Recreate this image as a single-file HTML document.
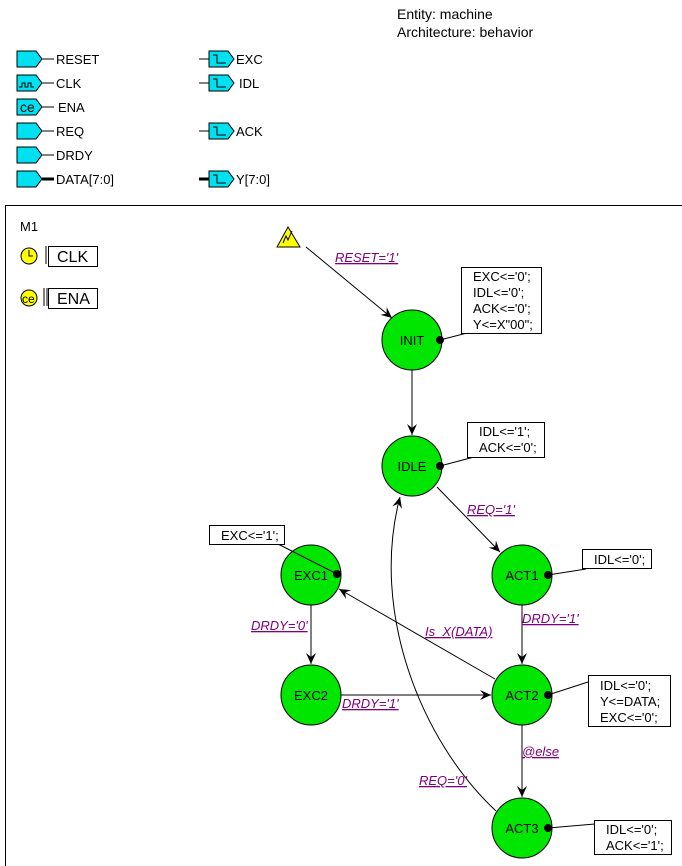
<!DOCTYPE html>
<html><head><style>
body{margin:0;background:#fff;}
svg{display:block;font-family:"Liberation Sans",Arial,sans-serif;}
.t{font-size:13px;fill:#000}
.l{font-size:13px;fill:#800080;font-style:italic;text-decoration:underline}
</style></head><body>
<svg width="682" height="866" viewBox="0 0 682 866">
<defs>
<marker id="a" markerWidth="12" markerHeight="12" refX="11" refY="6" orient="auto" markerUnits="userSpaceOnUse">
<path d="M0,1 L11,6 L0,11 L4,6 Z" fill="#000"/>
</marker>
<g id="pin"><path d="M0,0 H19 L25,8 L19,16 H0 Z" fill="#00e0f0" stroke="#000" stroke-width="1"/></g>
<g id="opin"><path d="M0,0 H19 L25,8 L19,16 H0 Z" fill="#00e0f0" stroke="#000" stroke-width="1"/><path d="M4,4 H8 V12 H17" fill="none" stroke="#000"/></g>
</defs>
<text x="397" y="19" class="t" style="font-size:14px">Entity: machine</text>
<text x="397" y="37" class="t" style="font-size:14px">Architecture: behavior</text>

<use href="#pin" x="17" y="51"/><line x1="42" y1="59" x2="54" y2="59" stroke="#000"/><text x="56" y="64" class="t">RESET</text>
<use href="#pin" x="17" y="75"/><path d="M19,87 h3 v-4 h3 v4 h3 v-4 h3 v4 h3" fill="none" stroke="#000"/><line x1="42" y1="83" x2="54" y2="83" stroke="#000"/><text x="56" y="88" class="t">CLK</text>
<use href="#pin" x="17" y="99"/><text x="20" y="112" class="t" style="font-size:14px">ce</text><line x1="42" y1="107" x2="54" y2="107" stroke="#000"/><text x="58" y="112" class="t">ENA</text>
<use href="#pin" x="17" y="123"/><line x1="42" y1="131" x2="54" y2="131" stroke="#000"/><text x="56" y="136" class="t">REQ</text>
<use href="#pin" x="17" y="147"/><line x1="42" y1="155" x2="54" y2="155" stroke="#000"/><text x="56" y="160" class="t">DRDY</text>
<use href="#pin" x="17" y="171"/><line x1="42" y1="179" x2="54" y2="179" stroke="#000" stroke-width="3"/><text x="56" y="184" class="t">DATA[7:0]</text>
<line x1="199" y1="59" x2="209" y2="59" stroke="#000"/><use href="#opin" x="209" y="51"/><text x="236" y="64" class="t">EXC</text>
<line x1="199" y1="83" x2="209" y2="83" stroke="#000"/><use href="#opin" x="209" y="75"/><text x="239" y="88" class="t">IDL</text>
<line x1="199" y1="131" x2="209" y2="131" stroke="#000"/><use href="#opin" x="209" y="123"/><text x="236" y="136" class="t">ACK</text>
<line x1="199" y1="179" x2="209" y2="179" stroke="#000" stroke-width="3"/><use href="#opin" x="209" y="171"/><text x="236" y="184" class="t">Y[7:0]</text>

<path d="M5.5,866 V205.5 H682" fill="none" stroke="#000"/>
<text x="20" y="231" class="t">M1</text>
<circle cx="29" cy="256" r="8" fill="#ffff00" stroke="#000"/><path d="M29,250 V256 H33" fill="none" stroke="#000"/>
<path d="M46,264 V246 M49,264 V246" fill="none" stroke="#000"/><rect x="48.5" y="246.5" width="49" height="20" fill="#fff" stroke="#000"/><text x="57" y="262" class="t" style="font-size:16px">CLK</text>
<circle cx="29" cy="298" r="8" fill="#ffff00" stroke="#000"/><text x="22" y="303" class="t" style="font-size:12px">ce</text>
<path d="M44,306 V288 M47,306 V288" fill="none" stroke="#000"/><rect x="48.5" y="288.5" width="49" height="20" fill="#fff" stroke="#000"/><text x="57" y="304" class="t" style="font-size:16px">ENA</text>

<path d="M277,247 L288,227 L300,247 Z" fill="#ffff00" stroke="#000"/><path d="M283,243 l3,-7 l2,4 l4,-9" fill="none" stroke="#000"/>
<line x1="306" y1="247" x2="392" y2="318" stroke="#000" marker-end="url(#a)"/>
<text x="335" y="262" class="l">RESET='1'</text>

<line x1="412" y1="370" x2="412" y2="435" stroke="#000" marker-end="url(#a)"/>
<line x1="437" y1="487" x2="500" y2="552" stroke="#000" marker-end="url(#a)"/>
<text x="467" y="514" class="l">REQ='1'</text>
<line x1="522" y1="605" x2="522" y2="664" stroke="#000" marker-end="url(#a)"/>
<text x="522" y="623" class="l">DRDY='1'</text>
<line x1="311" y1="605" x2="311" y2="664" stroke="#000" marker-end="url(#a)"/>
<text x="251" y="630" class="l">DRDY='0'</text>
<line x1="341" y1="695" x2="491" y2="695" stroke="#000" marker-end="url(#a)"/>
<text x="342" y="708" class="l">DRDY='1'</text>
<line x1="495" y1="679" x2="339" y2="589" stroke="#000" marker-end="url(#a)"/>
<text x="425" y="636" class="l">Is_X(DATA)</text>
<line x1="522" y1="725" x2="522" y2="797" stroke="#000" marker-end="url(#a)"/>
<text x="522" y="756" class="l">@else</text>
<path d="M496,811 C420,740 370,610 400,497" fill="none" stroke="#000" marker-end="url(#a)"/>
<text x="419" y="785" class="l">REQ='0'</text>

<g stroke="#000" fill="#00e600">
<circle cx="412" cy="340" r="30"/><circle cx="412" cy="466" r="30"/>
<circle cx="311" cy="575" r="30"/><circle cx="522" cy="575" r="30"/>
<circle cx="311" cy="695" r="30"/><circle cx="522" cy="695" r="30"/>
<circle cx="522" cy="828" r="30"/>
</g>
<g text-anchor="middle">
<text x="412" y="345" class="t">INIT</text><text x="412" y="471" class="t">IDLE</text>
<text x="311" y="580" class="t">EXC1</text><text x="522" y="580" class="t">ACT1</text>
<text x="311" y="700" class="t">EXC2</text><text x="522" y="700" class="t">ACT2</text>
<text x="522" y="833" class="t">ACT3</text>
</g>

<g stroke="#000">
<line x1="440" y1="340" x2="467" y2="333"/><circle cx="440" cy="340" r="3.5" fill="#000"/>
<line x1="440" y1="466" x2="474" y2="457"/><circle cx="440" cy="466" r="3.5" fill="#000"/>
<line x1="337" y1="574" x2="278" y2="544"/><circle cx="337" cy="574" r="3.5" fill="#000"/>
<line x1="548" y1="575" x2="586" y2="569"/><circle cx="548" cy="575" r="3.5" fill="#000"/>
<line x1="548" y1="695" x2="588" y2="682"/><circle cx="548" cy="695" r="3.5" fill="#000"/>
<line x1="548" y1="828" x2="595" y2="824"/><circle cx="548" cy="828" r="3.5" fill="#000"/>
</g>
<g fill="#fff" stroke="#000">
<rect x="461.5" y="267.5" width="80" height="66"/>
<rect x="467.5" y="422.5" width="77" height="35"/>
<rect x="209.5" y="525.5" width="75" height="19"/>
<rect x="582.5" y="549.5" width="69" height="19"/>
<rect x="588.5" y="675.5" width="82" height="51"/>
<rect x="594.5" y="820.5" width="77" height="34"/>
</g>
<text x="473" y="281" class="t">EXC&lt;='0';</text>
<text x="473" y="297" class="t">IDL&lt;='0';</text>
<text x="473" y="313" class="t">ACK&lt;='0';</text>
<text x="473" y="329" class="t">Y&lt;=X"00";</text>
<text x="479" y="436" class="t">IDL&lt;='1';</text>
<text x="479" y="452" class="t">ACK&lt;='0';</text>
<text x="221" y="540" class="t">EXC&lt;='1';</text>
<text x="594" y="564" class="t">IDL&lt;='0';</text>
<text x="600" y="690" class="t">IDL&lt;='0';</text>
<text x="600" y="706" class="t">Y&lt;=DATA;</text>
<text x="600" y="722" class="t">EXC&lt;='0';</text>
<text x="606" y="834" class="t">IDL&lt;='0';</text>
<text x="606" y="850" class="t">ACK&lt;='1';</text>
</svg>
</body></html>
